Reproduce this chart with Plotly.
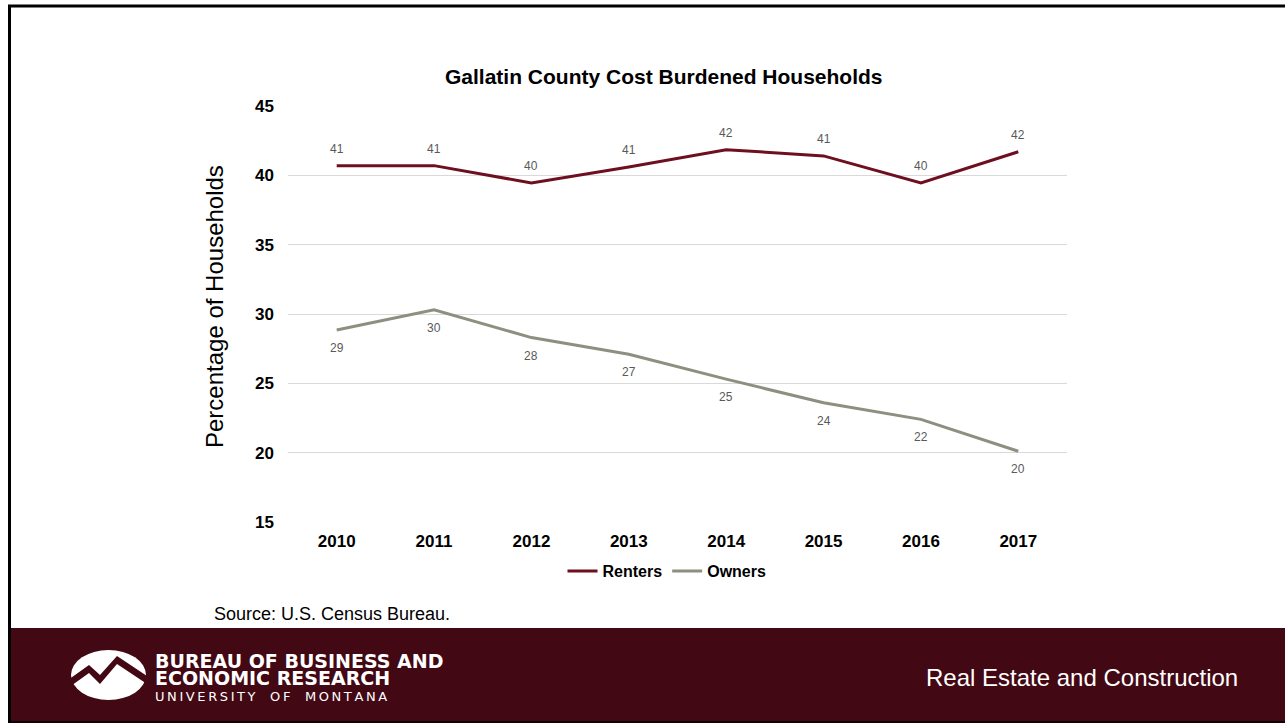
import plotly.graph_objects as go

years = ["2010", "2011", "2012", "2013", "2014", "2015", "2016", "2017"]
renters = [40.7, 40.7, 39.45, 40.6, 41.85, 41.4, 39.45, 41.7]
owners = [28.85, 30.3, 28.3, 27.1, 25.3, 23.6, 22.4, 20.1]
renters_labels = ["41", "41", "40", "41", "42", "41", "40", "42"]
owners_labels = ["29", "30", "28", "27", "25", "24", "22", "20"]
y_ticks = [15, 20, 25, 30, 35, 40, 45]

W, H = 1285, 723
L, R, T, B = 288, 1067, 106, 522
BAND = "#420814"
RENT_C = "#6E0F20"
OWN_C = "#8C9080"
FONT = "Liberation Sans, Arial, sans-serif"

def px(x):
    return (x - L) / (R - L)

def py(y):
    return (B - y) / (B - T)

fig = go.Figure()
fig.add_trace(go.Scatter(
    x=years, y=renters, name="Renters", mode="lines",
    line=dict(color=RENT_C, width=3),
))
fig.add_trace(go.Scatter(
    x=years, y=owners, name="Owners", mode="lines",
    line=dict(color=OWN_C, width=3),
))

shapes = []
# footer band
shapes.append(dict(type="rect", xref="paper", yref="paper", layer="below",
                   x0=px(10), x1=px(W), y0=py(628), y1=py(H),
                   fillcolor=BAND, line=dict(width=0)))
# slide frame
shapes.append(dict(type="line", xref="paper", yref="paper",
                   x0=px(8), x1=px(W), y0=py(6), y1=py(6),
                   line=dict(color="black", width=3)))
shapes.append(dict(type="line", xref="paper", yref="paper",
                   x0=px(9.5), x1=px(9.5), y0=py(5), y1=py(H),
                   line=dict(color="black", width=3)))
shapes.append(dict(type="line", xref="paper", yref="paper",
                   x0=px(8), x1=px(W), y0=py(722), y1=py(722),
                   line=dict(color="black", width=1.5)))
# logo ellipse
shapes.append(dict(type="circle", xref="paper", yref="paper",
                   x0=px(71), x1=px(146), y0=py(650), y1=py(700),
                   fillcolor="white", line=dict(width=0)))
# logo mountain zigzag (band colour)
top_pts = [(68, 680), (89, 665), (100, 675), (117, 656), (150, 678)]
bot_pts = [(150, 686), (117, 664), (100, 684), (89, 673), (68, 688)]
path = "M " + " L ".join(f"{px(x)},{py(y)}" for x, y in top_pts + bot_pts) + " Z"
shapes.append(dict(type="path", xref="paper", yref="paper", path=path,
                   fillcolor=BAND, line=dict(width=0)))

ann = []
# data labels (category axis: annotation x is the category index)
for i, (v, lab) in enumerate(zip(renters, renters_labels)):
    ann.append(dict(x=i, y=v, xref="x", yref="y", text=lab, showarrow=False,
                    yshift=17, xanchor="center", yanchor="middle",
                    font=dict(size=12, color="#595959", family=FONT)))
for i, (v, lab) in enumerate(zip(owners, owners_labels)):
    ann.append(dict(x=i, y=v, xref="x", yref="y", text=lab, showarrow=False,
                    yshift=-18, xanchor="center", yanchor="middle",
                    font=dict(size=12, color="#595959", family=FONT)))

ann.append(dict(text="<b>Gallatin County Cost Burdened Households</b>",
                x=px(664), y=py(76), xref="paper", yref="paper", showarrow=False,
                xanchor="center", yanchor="middle",
                font=dict(size=21, color="black", family=FONT)))
ann.append(dict(text="Percentage of Households", textangle=-90,
                x=px(214), y=py(307), xref="paper", yref="paper", showarrow=False,
                xanchor="center", yanchor="middle",
                font=dict(size=24, color="black", family=FONT)))
ann.append(dict(text="Source: U.S. Census Bureau.",
                x=px(212), y=py(614), xref="paper", yref="paper", showarrow=False,
                xanchor="left", yanchor="middle",
                font=dict(size=18, color="black", family=FONT)))
ann.append(dict(text="Real Estate and Construction",
                x=px(1240), y=py(677), xref="paper", yref="paper", showarrow=False,
                xanchor="right", yanchor="middle",
                font=dict(size=24, color="white", family=FONT)))
LOGO_FONT = "DejaVu Sans, sans-serif"
ann.append(dict(text="<b>BUREAU OF BUSINESS AND</b>",
                x=px(153), y=py(661), xref="paper", yref="paper", showarrow=False,
                xanchor="left", yanchor="middle",
                font=dict(size=19, color="white", family=LOGO_FONT)))
ann.append(dict(text="<b>ECONOMIC RESEARCH</b>",
                x=px(153), y=py(678), xref="paper", yref="paper", showarrow=False,
                xanchor="left", yanchor="middle",
                font=dict(size=19, color="white", family=LOGO_FONT)))
ann.append(dict(text="\u2009".join("UNIVERSITY OF MONTANA").replace("\u2009 \u2009", "\u2009\u2009 \u2009\u2009"),
                x=px(153), y=py(696), xref="paper", yref="paper", showarrow=False,
                xanchor="left", yanchor="middle",
                font=dict(size=13, color="white", family=LOGO_FONT)))

fig.update_layout(
    width=W, height=H,
    margin=dict(l=L, r=W - R, t=T, b=H - B, pad=0),
    paper_bgcolor="white", plot_bgcolor="white",
    showlegend=True,
    legend=dict(orientation="h", x=px(667), y=py(571), xref="paper", yref="paper",
                xanchor="center", yanchor="middle",
                font=dict(size=16, color="black", family=FONT, weight="bold"),
                itemwidth=30, tracegroupgap=0, bgcolor="rgba(0,0,0,0)"),
    shapes=shapes, annotations=ann,
    font=dict(family=FONT),
)
fig.update_xaxes(type="category", range=[-0.5, 7.5], showgrid=False, zeroline=False,
                 showline=False, ticks="", ticklabelstandoff=7,
                 tickfont=dict(size=17, color="black", family=FONT, weight="bold"))
fig.update_yaxes(range=[15, 45], tickvals=y_ticks, showgrid=True, gridcolor="#D9D9D9",
                 gridwidth=1, zeroline=False, showline=False, ticks="",
                 ticklabelstandoff=13,
                 tickfont=dict(size=17, color="black", family=FONT, weight="bold"))

fig.write_html("out.html")
